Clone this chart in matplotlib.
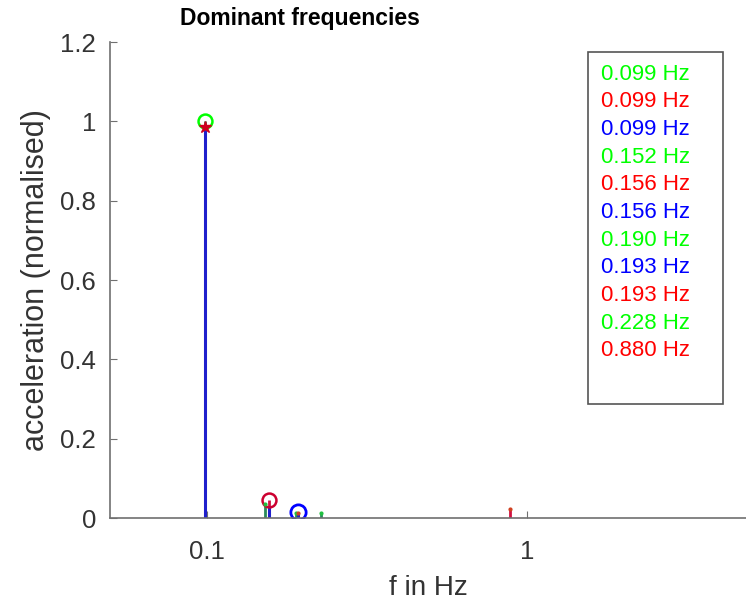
import matplotlib
matplotlib.use("Agg")
import matplotlib.pyplot as plt
from matplotlib.ticker import NullLocator, FixedLocator, FixedFormatter

plt.rcParams['font.family'] = ['Liberation Sans', 'DejaVu Sans']

# Data
green_f = [0.099, 0.152, 0.190, 0.228]
green_a = [1.0, 0.035, 0.012, 0.012]
red_f = [0.099, 0.156, 0.193, 0.880]
red_a = [0.985, 0.045, 0.012, 0.022]
blue_f = [0.099, 0.156, 0.193]
blue_a = [0.98, 0.03, 0.015]

legend_labels = ["0.099 Hz", "0.099 Hz", "0.099 Hz", "0.152 Hz", "0.156 Hz", "0.156 Hz",
                 "0.190 Hz", "0.193 Hz", "0.193 Hz", "0.228 Hz", "0.880 Hz"]
legend_colors = ["g", "r", "b", "g", "r", "b", "g", "b", "r", "g", "r"]

GREEN = "#00ff00"
RED = "#ff0000"
BLUE = "#0000ff"
cmap = {"g": GREEN, "r": RED, "b": BLUE}

fig = plt.figure(figsize=(7.46, 6.02), dpi=100)
ax = fig.add_axes([0.1475, 0.1395, 0.8525, 0.7907])

# stems
ax.vlines(green_f, 0, green_a, color="#2a8a5a", lw=2)
ax.vlines(red_f, 0, red_a, color="#d01040", lw=2)
ax.vlines(blue_f, 0, blue_a, color="#2020cc", lw=2.2)

# markers
ax.plot(green_f[0], green_a[0], 'o', mfc='none', mec=GREEN, ms=10, mew=1.8)
ax.plot(red_f[0], red_a[0], '*', color="#d00020", ms=9)
ax.plot(red_f[1], red_a[1], 'o', mfc='none', mec="#cc0030", ms=10, mew=1.8)
ax.plot(blue_f[2], blue_a[2], 'o', mfc='none', mec=BLUE, ms=11, mew=2)
ax.plot(green_f[1:], green_a[1:], '.', color="#20c040", ms=4)
ax.plot(red_f[2:], red_a[2:], '.', color="#d04020", ms=4)

ax.set_xscale('log')
ax.set_xlim(0.05, 4.8)
ax.set_ylim(0, 1.2)
ax.xaxis.set_major_locator(FixedLocator([0.1, 1]))
ax.xaxis.set_major_formatter(FixedFormatter(["0.1", "1"]))
ax.xaxis.set_minor_locator(NullLocator())
ax.set_yticks([0, 0.2, 0.4, 0.6, 0.8, 1.0, 1.2])
ax.set_yticklabels(["0", "0.2", "0.4", "0.6", "0.8", "1", "1.2"])

for s in ["top", "right"]:
    ax.spines[s].set_visible(False)
for s in ["left", "bottom"]:
    ax.spines[s].set_color("#707070")
    ax.spines[s].set_linewidth(1.2)
ax.tick_params(direction='in', length=5, color="#707070", labelsize=18.5,
               labelcolor="#333333")
ax.tick_params(axis='y', pad=10)
ax.tick_params(axis='x', pad=16)

ax.set_xlabel("f in Hz", fontsize=20, color="#333333", labelpad=8)
ax.set_ylabel("acceleration (normalised)", fontsize=22, color="#333333", labelpad=7)
fig.text(300 / 746, 1 - 18 / 602, "Dominant frequencies", fontsize=16.5,
         fontweight='bold', ha='center', va='center')

# legend box with colored text entries
bx0, by0, bx1, by1 = 588, 52, 723, 404
W, H = 746, 602
rect = plt.Rectangle((bx0 / W, 1 - by1 / H), (bx1 - bx0) / W, (by1 - by0) / H,
                     transform=fig.transFigure, fill=True, facecolor="white",
                     edgecolor="#555555", lw=1.2)
fig.add_artist(rect)
for i, (lab, c) in enumerate(zip(legend_labels, legend_colors)):
    y = 74 + i * 27.7
    fig.text(601 / W, 1 - y / H, lab, color=cmap[c], fontsize=16,
             va='center', ha='left')

fig.savefig("out.png", dpi=100)
